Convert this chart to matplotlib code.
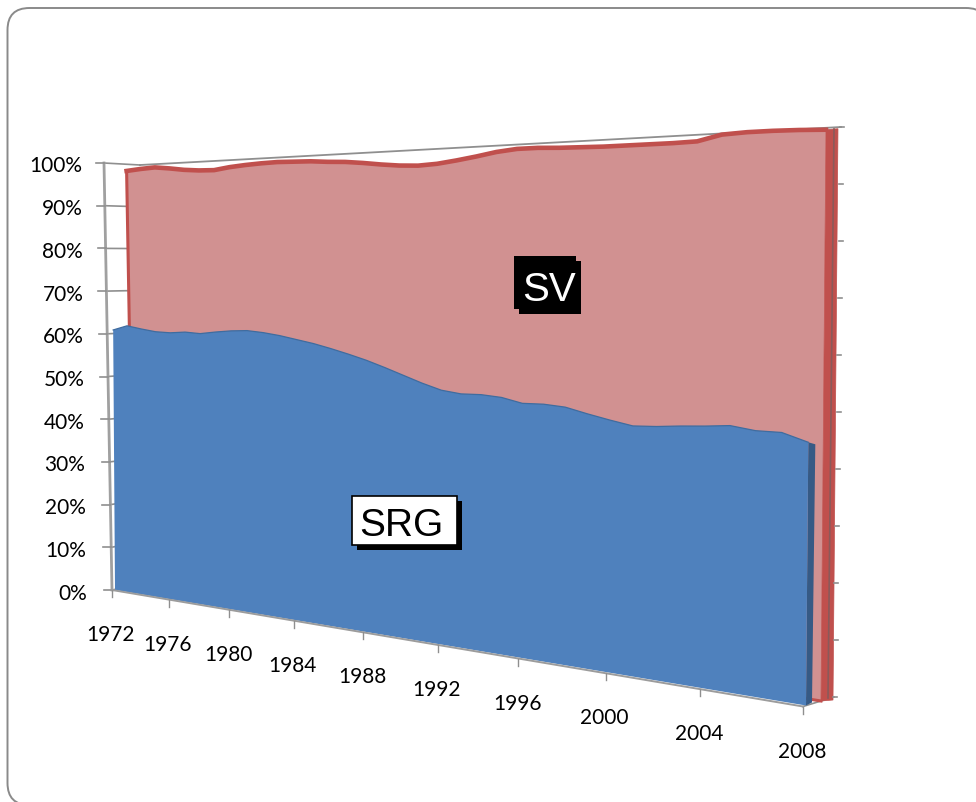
import numpy as np
import matplotlib
matplotlib.use('Agg')
import matplotlib.pyplot as plt
import matplotlib.transforms as mtransforms
from matplotlib.patches import FancyBboxPatch, Rectangle

# share of each group, one value per year
years = list(range(1972, 2009))
srg = [60.9, 62.0, 61.4, 60.9, 60.8, 61.1, 60.9, 61.4, 61.8, 62.0, 61.7, 61.2, 60.5,
       59.8, 58.9, 57.9, 56.8, 55.5, 54.1, 52.7, 51.5, 51.0, 51.1, 50.8, 49.9, 50.0,
       49.7, 48.7, 47.8, 47.0, 47.2, 47.6, 47.9, 48.3, 47.7, 47.7, 46.3]
sv_top = [98.6, 98.9, 99.1, 98.7, 98.2, 97.9, 97.8, 98.3, 98.6, 98.8, 98.9, 98.8, 98.7,
          98.4, 98.2, 97.8, 97.3, 96.9, 96.7, 96.9, 97.4, 98.0, 98.7, 99.1, 99.1, 98.9,
          98.8, 98.7, 98.7, 98.7, 98.7, 98.8, 99.8, 100.0, 100.0, 99.9, 99.7]

pct_ticks = list(range(0, 101, 10))
pct_labels = [str(p) + '%' for p in pct_ticks]
year_ticks = list(range(1972, 2009, 4))
year_labels = [str(y) for y in year_ticks]

BLUE = '#4F81BD'
BLUE_DARK = '#365A85'
RED = '#C0504D'
PINK = '#D19191'
GRID = '#8F8F8F'
TICK_FONT = 'Lato'
BOX_FONT = 'Liberation Sans'
FORESHORTEN = 1.40


class PerspectivePlane(mtransforms.Transform):
    """Maps (year, percent) onto a quad in figure pixels, 3D chart style."""
    input_dims = 2
    output_dims = 2

    def __init__(self, lb, rb, lt, rt):
        super().__init__()
        self.lb, self.rb, self.lt, self.rt = [np.array(c, float) for c in (lb, rb, lt, rt)]

    def transform_non_affine(self, values):
        values = np.asarray(values, float)
        u = (values[:, 0] - years[0]) / (years[-1] - years[0])
        v = values[:, 1, None] / 100
        # years bunch up at the far end of the chart
        t = (u / (u + (1 - u) * FORESHORTEN))[:, None]
        bottom = self.lb + (self.rb - self.lb) * t
        top = self.lt + (self.rt - self.lt) * t
        return bottom + (top - bottom) * v


# corners: left-bottom, right-bottom, left-top, right-top
axis_plane = PerspectivePlane((112, 590), (803, 706.5), (104, 163), (810, 139))
srg_plane = PerspectivePlane((115, 590), (806, 705.5), (112, 163), (811, 137))
sv_plane = PerspectivePlane((134, 590), (821, 701), (126.5, 165), (826, 128))
back_plane = PerspectivePlane((147, 583), (834, 697), (140, 165), (841, 127))

fig = plt.figure(figsize=(9.76, 8.02), dpi=100)
ax = fig.add_axes([0, 0, 1, 1])
ax.set_xlim(0, 976)
ax.set_ylim(802, 0)
ax.axis('off')
ax.autoscale(False)

# slide frame
ax.add_patch(FancyBboxPatch((29.5, 30), 936.5, 753, boxstyle='round,pad=22,rounding_size=22',
                            fc='white', ec='#8A8A8A', lw=1.4, zorder=0))


def on(plane):
    return plane + ax.transData


# side wall gridlines
for p in pct_ticks:
    a = axis_plane.transform([(1972, p)])[0]
    b = back_plane.transform([(1972, p)])[0]
    ax.plot([a[0], b[0]], [a[1], b[1]], color=GRID, lw=1.2, zorder=1)

# back wall top edge and floor edge
ax.plot([1972, 2008], [100, 100], color=GRID, lw=1.3, zorder=1, transform=on(back_plane))
a = axis_plane.transform([(2008, 0)])[0]
b = back_plane.transform([(2008, 0)])[0]
ax.plot([a[0], b[0]], [a[1], b[1]], color=GRID, lw=1.2, zorder=1)

# SV area, outlined along the top and both ends
ax.fill(years + years[::-1], sv_top + [0] * len(years), fc=PINK, ec='none', zorder=2,
        transform=on(sv_plane))
ax.plot(years, sv_top, color=RED, lw=3.3, solid_joinstyle='round', zorder=3,
        transform=on(sv_plane))
ax.plot([1972, 1972], [0, sv_top[0]], color=RED, lw=2.2, zorder=3, transform=on(sv_plane))
ax.plot([2006, 2008], [0, 0], color=RED, lw=2.2, zorder=3, transform=on(sv_plane))

# SV end face
p0, p1 = sv_plane.transform([(2008, 0), (2008, sv_top[-1])])
ax.fill([p0[0], p1[0], p1[0] + 12, p0[0] + 12], [p0[1], p1[1], p1[1] - 1, p0[1] - 1],
        fc=RED, ec=RED, lw=0.5, zorder=3)

# right axis line with its ticks
b0, b1 = back_plane.transform([(2008, 0), (2008, 100)])
ax.plot([b0[0] - 6, b1[0] - 7], [b0[1] + 1, b1[1] + 2], color='#8A5A5A', lw=1.2, zorder=4)
for p in pct_ticks:
    t = back_plane.transform([(2008, p)])[0]
    ax.plot([t[0] - 1, t[0] + 3], [t[1], t[1]], color=GRID, lw=1.2, zorder=4)

# SRG end face, then SRG area
p0, p1 = srg_plane.transform([(2008, 0), (2008, srg[-1])])
ax.fill([p0[0], p1[0], p1[0] + 7, p0[0] + 6], [p0[1], p1[1], p1[1] + 2, p0[1] - 3],
        fc=BLUE_DARK, ec='none', zorder=5)
ax.fill(years + years[::-1], srg + [0] * len(years), fc=BLUE, ec='none', zorder=6,
        transform=on(srg_plane))
ax.plot(years, srg, color='#3F6C9F', lw=0.9, zorder=6, transform=on(srg_plane))

# value axis
ax.plot([1972, 1972], [0, 100], color='#A0A0A0', lw=2.0, zorder=5, transform=on(axis_plane))
for p, lab in zip(pct_ticks, pct_labels):
    t = axis_plane.transform([(1972, p)])[0]
    ax.plot([t[0] - 8, t[0]], [t[1], t[1]], color=GRID, lw=1.2, zorder=5)
    ax.text(t[0] - 22 - 0.007 * (t[1] - 163), t[1] + 3.5, lab, ha='right', va='center',
            family=TICK_FONT, fontsize=15, color='black', zorder=8)

# year axis
ax.plot([1972, 2008], [0, 0], color='#9C9C9C', lw=1.4, zorder=7, transform=on(axis_plane))
for y, lab in zip(year_ticks, year_labels):
    t = axis_plane.transform([(y, 0)])[0]
    ax.plot([t[0], t[0]], [t[1], t[1] + 7], color=GRID, lw=1.0, zorder=7)
    ax.text(t[0] - 1, t[1] + 45, lab, ha='center', va='center',
            family=TICK_FONT, fontsize=15, color='black', zorder=8)

# group labels
ax.add_patch(Rectangle((519, 261), 62, 53, fc='black', ec='none', zorder=8))
ax.add_patch(Rectangle((514, 256), 62, 53, fc='black', ec='none', zorder=9))
ax.text(549, 290, 'SV', ha='center', va='center', family=BOX_FONT, fontsize=29,
        color='white', zorder=10)

ax.add_patch(Rectangle((357, 501), 105, 49, fc='black', ec='none', zorder=8))
ax.add_patch(Rectangle((352, 496), 105, 49, fc='white', ec='black', lw=1.2, zorder=9))
ax.text(401, 526, 'SRG', ha='center', va='center', family=BOX_FONT, fontsize=28,
        color='black', zorder=10)

fig.savefig('out.png', dpi=100)
